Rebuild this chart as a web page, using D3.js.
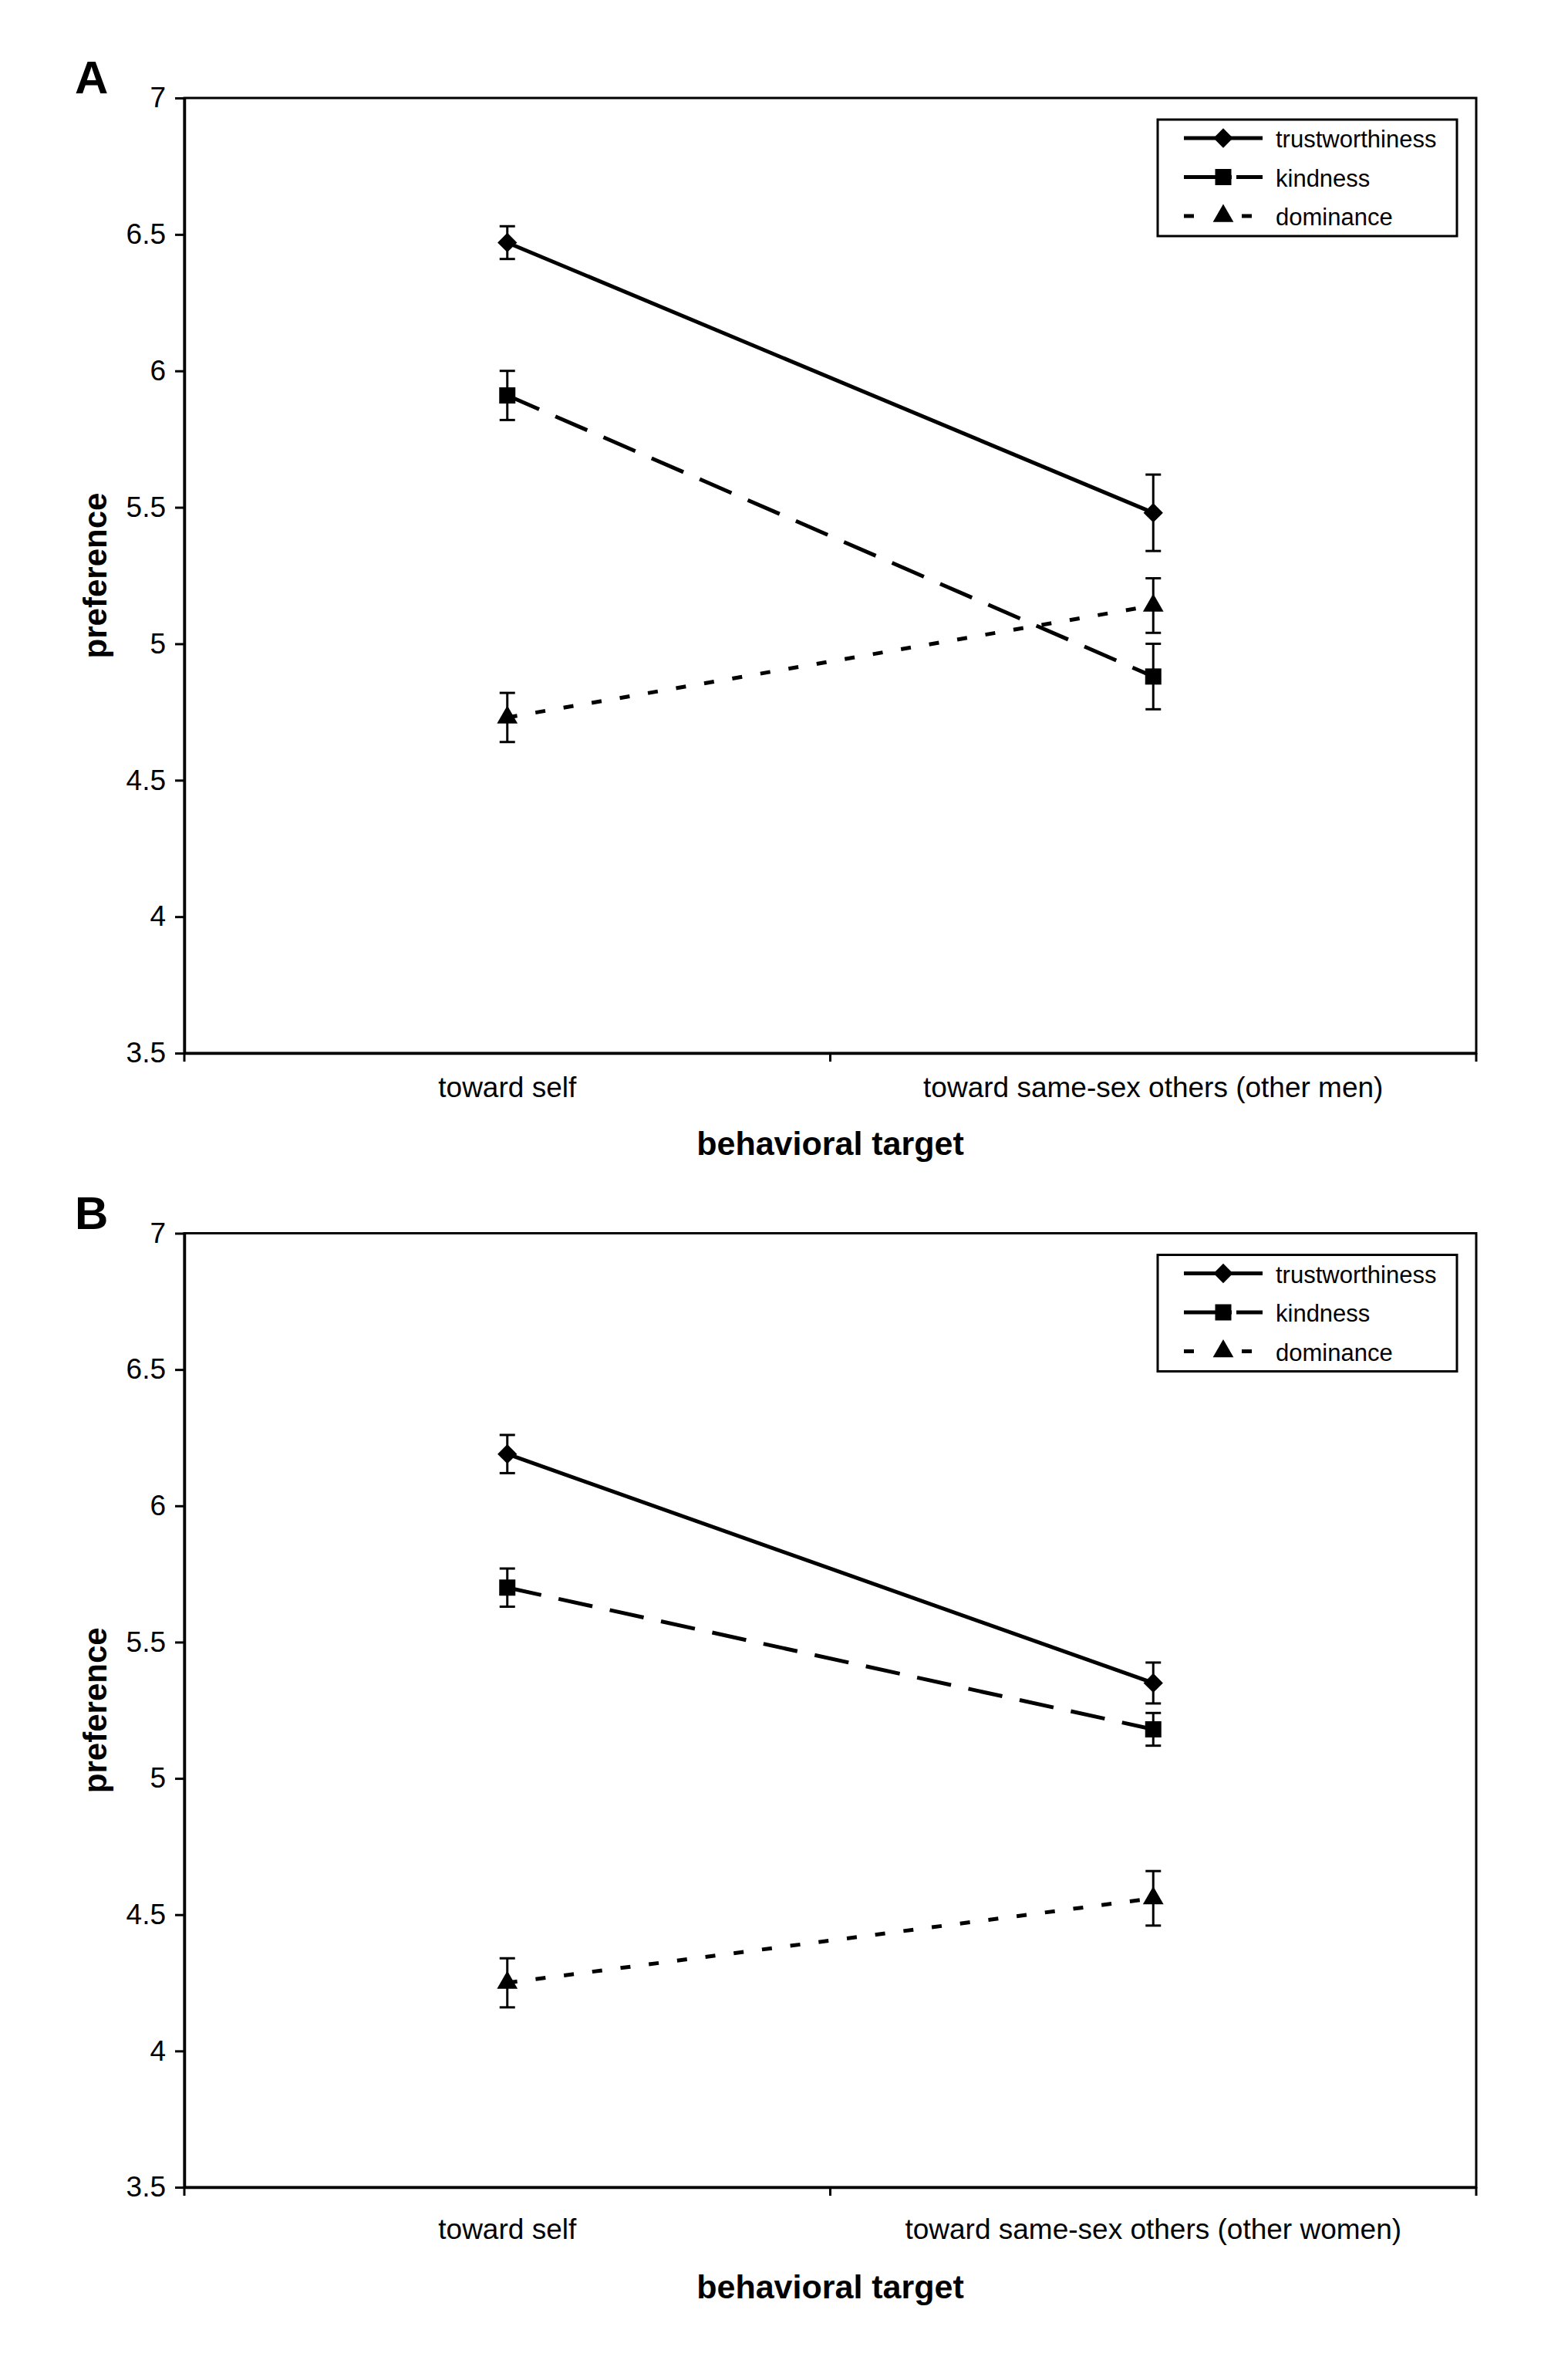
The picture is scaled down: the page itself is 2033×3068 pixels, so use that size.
<!DOCTYPE html>
<html>
<head>
<meta charset="utf-8">
<script src="https://cdn.jsdelivr.net/npm/d3@7"></script>
<style>
  body { margin: 0; background: #fff; }
  text { font-family: "Liberation Sans", Arial, sans-serif; fill: #000; }
</style>
</head>
<body>
<div id="chartDiv"></div>
<script>
  // data
  const seriesNames = ["trustworthiness", "kindness", "dominance"];
  const categoriesA = ["toward self", "toward same-sex others (other men)"];
  const categoriesB = ["toward self", "toward same-sex others (other women)"];

  const trustA = [6.47, 5.48], trustErrA = [0.06, 0.14];
  const kindA = [5.91, 4.88], kindErrA = [0.09, 0.12];
  const domA = [4.73, 5.14], domErrA = [0.09, 0.10];

  const trustB = [6.19, 5.35], trustErrB = [0.07, 0.075];
  const kindB = [5.70, 5.18], kindErrB = [0.07, 0.06];
  const domB = [4.25, 4.56], domErrB = [0.09, 0.10];

  const yTicks = [3.5, 4, 4.5, 5, 5.5, 6, 6.5, 7];

  const width = 2033, height = 3068;

  const svg = d3.select("#chartDiv")
      .append("svg")
      .attr("width", width)
      .attr("height", height);

  // line / marker styles per series
  const styles = [
      {dash: null, legendDash: null, symbol: "diamond"},
      {dash: "45 23", legendDash: "62 6 34 200", symbol: "square"},
      {dash: "13 24", legendDash: "13 62 13 200", symbol: "triangle"}
  ];

  const markerPath = (type) => {
      if (type === "diamond") return d3.symbol(d3.symbolSquare, 320)();
      if (type === "square") return d3.symbol(d3.symbolSquare, 441)();
      return d3.symbol(d3.symbolTriangle, 310)();
  };

  const drawPanel = (p) => {
      const g = svg.append("g");
      const x = d3.scaleBand().domain(p.categories).range([p.left, p.right]);
      const y = d3.scaleLinear().domain([3.5, 7]).range([p.bottom, p.top]);

      // frame
      g.append("rect")
          .attr("x", p.left).attr("y", p.top)
          .attr("width", p.right - p.left).attr("height", p.bottom - p.top)
          .attr("fill", "none").attr("stroke", "#000").attr("stroke-width", 3);

      // y axis
      const yAxis = g.append("g")
          .attr("transform", "translate(" + p.left + ",0)")
          .call(d3.axisLeft(y).tickValues(yTicks).tickFormat(d3.format(""))
              .tickSize(12).tickSizeOuter(0).tickPadding(12));
      yAxis.select(".domain").attr("stroke-width", 3.5);
      yAxis.selectAll(".tick line").attr("stroke-width", 3);
      yAxis.selectAll(".tick text").style("font-size", "37px")
          .style("font-family", "'Liberation Sans', Arial, sans-serif");

      // x axis: labels at band centres
      const xAxis = g.append("g")
          .attr("transform", "translate(0," + p.bottom + ")")
          .call(d3.axisBottom(x).tickSize(0).tickPadding(p.xPad));
      xAxis.select(".domain").attr("stroke-width", 3.5);
      xAxis.selectAll(".tick text").style("font-size", "37px")
          .style("font-family", "'Liberation Sans', Arial, sans-serif");

      // x ticks at band edges
      const edges = p.categories.map(c => x(c)).concat([x.range()[1]]);
      g.selectAll(".edgeTick")
          .data(edges)
          .enter()
          .append("line")
          .attr("x1", d => d).attr("x2", d => d)
          .attr("y1", p.bottom).attr("y2", p.bottom + 11)
          .attr("stroke", "#000").attr("stroke-width", 3);

      // axis titles
      g.append("text")
          .attr("x", (p.left + p.right) / 2).attr("y", p.titleY)
          .attr("text-anchor", "middle")
          .style("font-size", "43px").style("font-weight", "bold")
          .text("behavioral target");
      g.append("text")
          .attr("transform", "translate(138," + (p.top + p.bottom) / 2 + ") rotate(-90)")
          .attr("text-anchor", "middle")
          .style("font-size", "42px").style("font-weight", "bold")
          .text("preference");
      g.append("text")
          .attr("x", 97).attr("y", p.top - 6)
          .style("font-size", "60px").style("font-weight", "bold")
          .text(p.letter);

      const line = d3.line()
          .x((d, i) => x(p.categories[i]) + x.bandwidth() / 2)
          .y(d => y(d));

      p.series.forEach((s, k) => {
          const st = styles[k];
          g.append("path")
              .datum(s.values)
              .attr("d", line)
              .attr("fill", "none")
              .attr("stroke", "#000")
              .attr("stroke-width", 5)
              .attr("stroke-dasharray", st.dash);

          const pts = s.values.map((v, i) => ({
              cx: x(p.categories[i]) + x.bandwidth() / 2, v: v, e: s.err[i]
          }));

          // error bars
          const eb = g.append("g");
          eb.selectAll("line.v").data(pts).enter().append("line")
              .attr("x1", d => d.cx).attr("x2", d => d.cx)
              .attr("y1", d => y(d.v + d.e)).attr("y2", d => y(d.v - d.e))
              .attr("stroke", "#000").attr("stroke-width", 3);
          ["hi", "lo"].forEach(side => {
              eb.selectAll("line." + side).data(pts).enter().append("line")
                  .attr("x1", d => d.cx - 10).attr("x2", d => d.cx + 10)
                  .attr("y1", d => y(side === "hi" ? d.v + d.e : d.v - d.e))
                  .attr("y2", d => y(side === "hi" ? d.v + d.e : d.v - d.e))
                  .attr("stroke", "#000").attr("stroke-width", 3);
          });

          // markers
          g.selectAll(null).data(pts).enter().append("path")
              .attr("d", markerPath(st.symbol))
              .attr("transform", d => "translate(" + d.cx + "," + y(d.v) + ")" +
                  (st.symbol === "diamond" ? " rotate(45)" : ""))
              .attr("fill", "#000");
      });

      // legend
      const lg = g.append("g");
      lg.append("rect")
          .attr("x", 1501).attr("y", p.top + 28)
          .attr("width", 388).attr("height", 151)
          .attr("fill", "#fff").attr("stroke", "#000").attr("stroke-width", 3);
      seriesNames.forEach((name, k) => {
          const ry = p.top + 52 + k * 50.5;
          const st = styles[k];
          lg.append("line")
              .attr("x1", 1535).attr("x2", 1637)
              .attr("y1", ry).attr("y2", ry)
              .attr("stroke", "#000").attr("stroke-width", 5)
              .attr("stroke-dasharray", st.legendDash);
          lg.append("path")
              .attr("d", markerPath(st.symbol))
              .attr("transform", "translate(1586," + ry + ")" +
                  (st.symbol === "diamond" ? " rotate(45)" : ""))
              .attr("fill", "#000");
          lg.append("text")
              .attr("x", 1654).attr("y", ry + 12)
              .style("font-size", "31px")
              .text(name);
      });
  };

  drawPanel({
      letter: "A", categories: categoriesA,
      left: 239, right: 1914, top: 127, bottom: 1365,
      xPad: 31, titleY: 1497,
      series: [
          {values: trustA, err: trustErrA},
          {values: kindA, err: kindErrA},
          {values: domA, err: domErrA}
      ]
  });

  drawPanel({
      letter: "B", categories: categoriesB,
      left: 239, right: 1914, top: 1598.5, bottom: 2835,
      xPad: 41, titleY: 2979,
      series: [
          {values: trustB, err: trustErrB},
          {values: kindB, err: kindErrB},
          {values: domB, err: domErrB}
      ]
  });
</script>
</body>
</html>
